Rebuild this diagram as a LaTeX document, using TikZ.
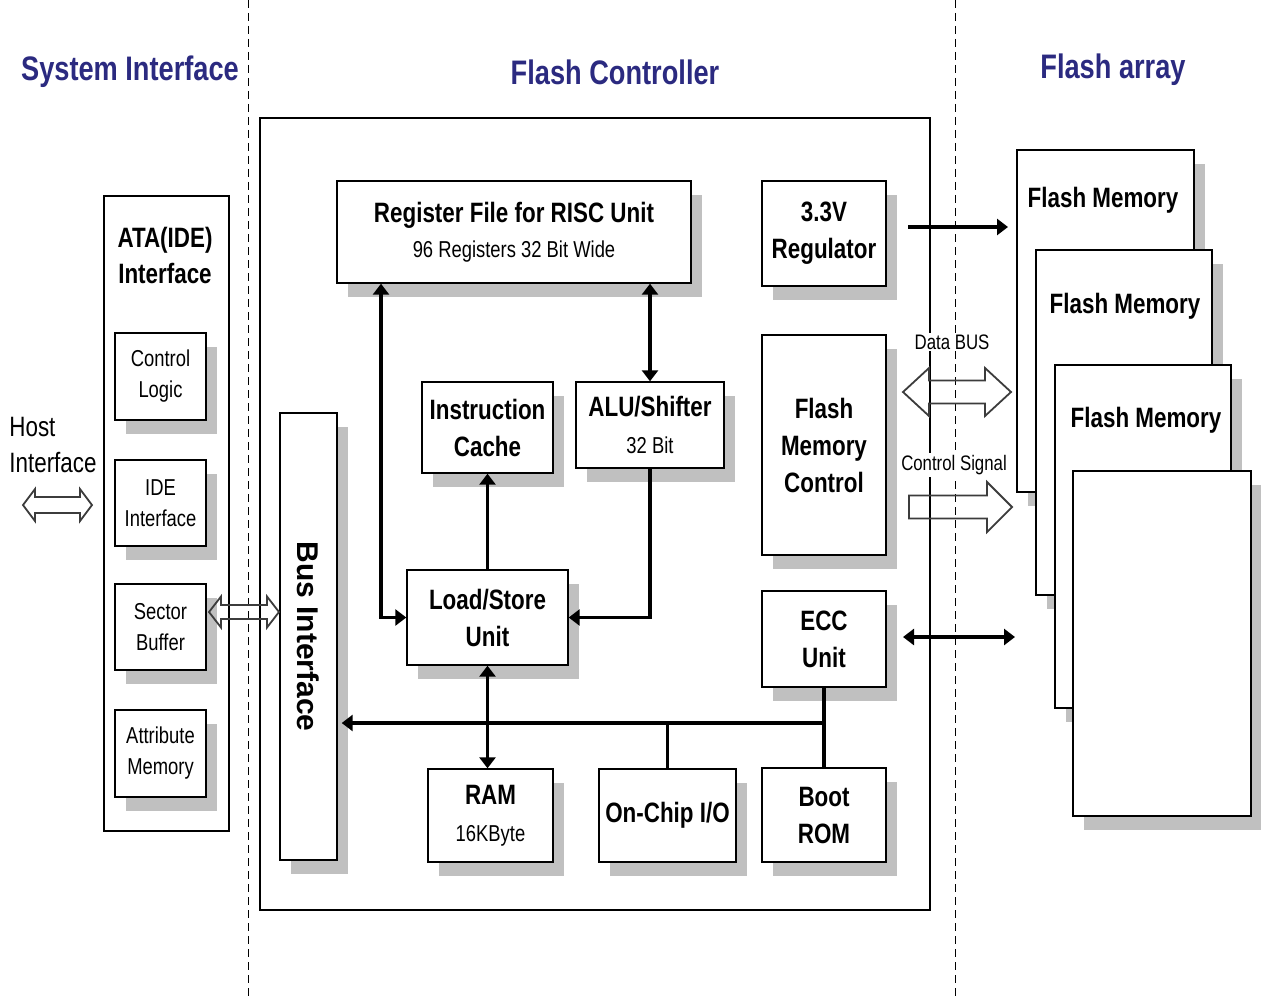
\documentclass[tikz,border=0pt]{standalone}
\usepackage{fontspec}
\setmainfont[FakeStretch=0.8]{Liberation Sans}
\newfontfamily\widefont{Liberation Sans}
\usetikzlibrary{calc,shadows,arrows.meta}
\definecolor{titleblue}{RGB}{43,42,128}
\definecolor{shgray}{RGB}{192,192,192}
\definecolor{outline}{RGB}{60,60,60}

% hollow double-headed arrow: from, to, shaft half width, head half width, head length
\newcommand\hollowdbl[5]{%
  \draw[hollow] let \p1=(#1), \p2=(#2) in
    (\x1,\y1) -- (\x1+#5,\y1+#4) -- (\x1+#5,\y1+#3) -- (\x2-#5,\y1+#3)
    -- (\x2-#5,\y1+#4) -- (\x2,\y1) -- (\x2-#5,\y1-#4) -- (\x2-#5,\y1-#3)
    -- (\x1+#5,\y1-#3) -- (\x1+#5,\y1-#4) -- cycle;}
% hollow single-headed arrow
\newcommand\hollowsgl[5]{%
  \draw[hollow] let \p1=(#1), \p2=(#2) in
    (\x1,\y1+#3) -- (\x2-#5,\y1+#3) -- (\x2-#5,\y1+#4) -- (\x2,\y1)
    -- (\x2-#5,\y1-#4) -- (\x2-#5,\y1-#3) -- (\x1,\y1-#3) -- cycle;}

\begin{document}
\begin{tikzpicture}[x=0.5pt,y=-0.5pt,
  sz/.style 2 args={minimum width=#1pt, minimum height=#2pt},
  frame/.style={draw, line width=0.7pt, fill=white, inner sep=0pt},
  blk/.style={frame, align=center,
    drop shadow={shadow xshift=5.5pt, shadow yshift=-7pt, fill=shgray, opacity=1},
    font=\fontsize{14}{18.5}\selectfont\bfseries},
  sub/.style={font=\fontsize{11.5}{15.5}\selectfont},
  small/.style={font=\fontsize{10.5}{12}\selectfont, fill=white, inner sep=1pt},
  title/.style={font=\fontsize{17}{20}\selectfont\bfseries, text=titleblue},
  flabel/.style={font=\fontsize{14}{18}\selectfont\bfseries, inner sep=0pt},
  conn/.style={line width=1.7pt, >={Triangle[length=5.5pt,width=8pt]}},
  hollow/.style={draw=outline, line width=0.9pt},
  divider/.style={line width=0.5pt, dash pattern=on 4pt off 2.5pt}]

\path[use as bounding box, fill=white] (0,0) rectangle (1261,1000);

% column dividers
\coordinate (d1t) at (248,0);   \coordinate (d1b) at (248,1000);
\coordinate (d2t) at (955,0);   \coordinate (d2b) at (955,1000);
\draw[divider] (d1t) -- (d1b);
\draw[divider] (d2t) -- (d2b);

% column titles
\node[title] (tsys) at (130,72) {System Interface};
\node[title] (tctl) at (615,72) {Flash Controller};
\node[title] (tarr) at (1113,70) {Flash array};

% ---------- system interface ----------
\node[frame, sz={62.5}{317.5}] (ata) at (166.5,513.5) {};
\node[font=\fontsize{14}{18}\selectfont\bfseries, align=center] (atat) at (165,255) {ATA(IDE)\\Interface};
\node[blk, sz={45.5}{43.5}, sub] (ctl) at (160.5,376.5) {Control\\Logic};
\node[blk, sz={45.5}{43}, sub] (ide) at (160.5,503) {IDE\\Interface};
\node[blk, sz={45.5}{43}, sub] (sb) at (160.5,627) {Sector\\Buffer};
\node[blk, sz={45.5}{43.5}, sub] (am) at (160.5,753.5) {Attribute\\Memory};

\node[font=\fontsize{14}{18}\selectfont, align=left, anchor=west, inner sep=0pt] (host) at (9,445) {Host\\Interface};
\coordinate (hostL) at (23,505);
\coordinate (hostR) at (92,505);
\hollowdbl{hostL}{hostR}{4pt}{8pt}{6pt}

% ---------- flash controller ----------
\node[frame, sz={335}{396}] (ctrl) at (595,514) {};

\node[blk, sz={28.5}{223.5}] (bus) at (308.5,636.5) {};
\node[font=\widefont\fontsize{15}{18}\selectfont\bfseries, rotate=-90] (bust) at (bus.center) {Bus Interface};

\node[blk, sz={177}{51}] (rf) at (514,232) {Register File for RISC Unit\\[-1pt]{\fontsize{11.5}{18.5}\selectfont\mdseries 96 Registers 32 Bit Wide}};
\node[blk, sz={65.5}{45.5}] (ic) at (487.5,427.5) {Instruction\\Cache};
\node[blk, sz={74}{43}] (alu) at (650,425) {ALU/Shifter\\{\fontsize{11.5}{18.5}\selectfont\mdseries 32 Bit}};
\node[blk, sz={80.5}{47.5}] (ls) at (487.5,617.5) {Load/Store\\Unit};
\node[blk, sz={62.5}{46.5}] (ram) at (490.5,815.5) {RAM\\{\fontsize{11.5}{18.5}\selectfont\mdseries 16KByte}};
\node[blk, sz={68.5}{46.5}] (io) at (667.5,815.5) {On-Chip I/O};
\node[blk, sz={62}{47}] (boot) at (824,815) {Boot\\ROM};
\node[blk, sz={62}{52.5}] (reg) at (824,233.5) {3.3V\\Regulator};
\node[blk, sz={62}{110}] (fmc) at (824,445) {Flash\\Memory\\Control};
\node[blk, sz={62}{48}] (ecc) at (824,639) {ECC\\Unit};

% internal connections
\coordinate (x381) at (381,0);
\draw[conn,<->] (rf.south -| x381) |- (ls.west);
\draw[conn,<->] (alu.north) -- (alu.north |- rf.south);
\draw[conn,->] (alu.south) |- (ls.east);
\draw[conn,->] (ls.north) -- (ic.south);
\draw[conn,<->] (ls.south) -- (ls.south |- ram.north);

% internal bus
\coordinate (bj) at (824,723);
\draw[conn] (ecc.south) -- (boot.north);
\draw[conn,->] (bj) -- ([xshift=2pt]bj -| bus.east);
\draw[conn] (io.north) -- (io.north |- bj);

% sector buffer to bus interface
\coordinate (sbL) at (209,612);
\coordinate (sbR) at (279,612);
\hollowdbl{sbL}{sbR}{3.5pt}{7.75pt}{6pt}

% ---------- flash array ----------
\node[blk, sz={88.5}{171}] (fm1) at (1105.5,321) {};
\node[flabel] (fm1t) at (1103,200) {Flash Memory};
\node[blk, sz={88}{172.5}] (fm2) at (1124,422.5) {};
\node[flabel] (fm2t) at (1125,306) {Flash Memory};
\node[blk, sz={88}{171.5}] (fm3) at (1143,536.5) {};
\node[flabel] (fm3t) at (1146,420) {Flash Memory};
\node[blk, sz={89}{172.5}] (fm4) at (1162,643.5) {};

% controller to flash array
\coordinate (regR) at (908,227);
\coordinate (regT) at (1008,227);
\draw[conn,->] (regR) -- (regT);

\node[small] (dbus) at (952,342) {Data BUS};
\coordinate (dbL) at (903,392);
\coordinate (dbR) at (1011,392);
\hollowdbl{dbL}{dbR}{5.75pt}{12pt}{13pt}

\node[small] (csig) at (954,465) {Control Signal};
\coordinate (csL) at (909,507);
\coordinate (csR) at (1012,507);
\hollowsgl{csL}{csR}{5.75pt}{12.5pt}{12.5pt}

\coordinate (eccL) at (903,637);
\coordinate (eccR) at (1015,637);
\draw[conn,<->] (eccL) -- (eccR);

\end{tikzpicture}
\end{document}
